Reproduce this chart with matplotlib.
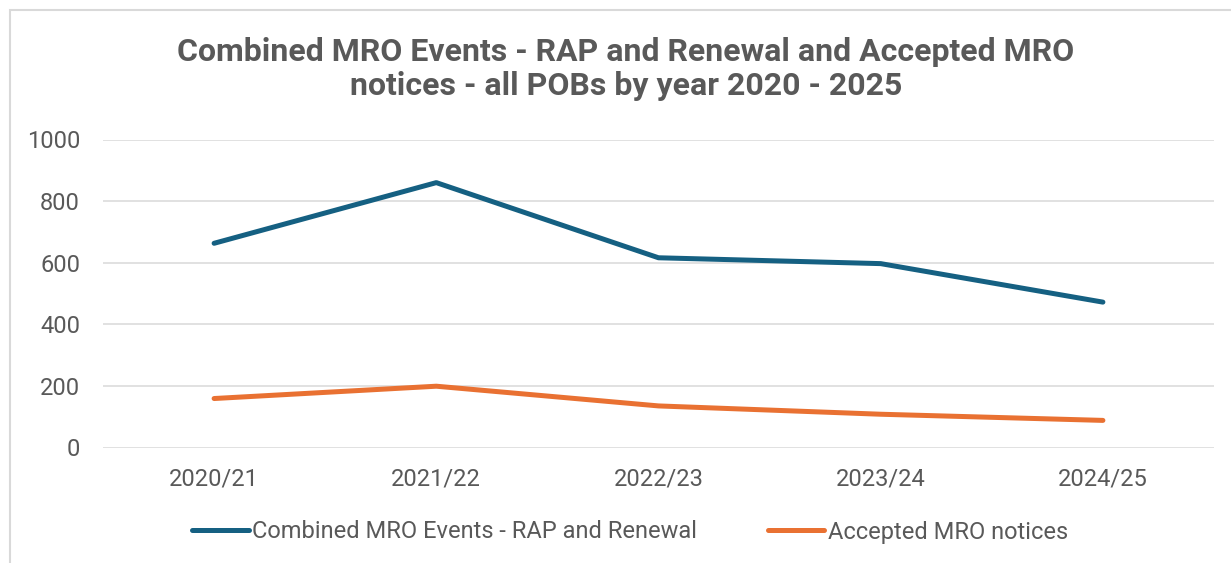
import matplotlib
matplotlib.use("Agg")
import matplotlib.pyplot as plt
from matplotlib.patches import Rectangle

plt.rcParams['font.family'] = ['Roboto', 'DejaVu Sans']

years = ["2020/21", "2021/22", "2022/23", "2023/24", "2024/25"]
combined_events = [663, 860, 616, 597, 472]
accepted_notices = [159, 199, 135, 108, 88]

blue = '#156082'
orange = '#E97132'
grey_text = '#595959'
grid_col = '#d9d9d9'

fig = plt.figure(figsize=(12.31, 5.63), dpi=100)
ax = fig.add_axes([103/1231, 1-447.5/563, (1214-103)/1231, (447.5-139.5)/563])

x = range(len(years))
ax.plot(x, combined_events, color=blue, lw=3.6, solid_capstyle='round',
        solid_joinstyle='round', label='Combined MRO Events - RAP and Renewal')
ax.plot(x, accepted_notices, color=orange, lw=3.6, solid_capstyle='round',
        solid_joinstyle='round', label='Accepted MRO notices')

ax.set_xlim(-0.5, len(years) - 0.5)
ax.set_ylim(0, 1000)
ax.set_yticks([0, 200, 400, 600, 800, 1000])
ax.set_xticks(list(x))
ax.set_xticklabels(years)
ax.grid(axis='y', color=grid_col, lw=1.1)
ax.set_axisbelow(True)
for s in ax.spines.values():
    s.set_visible(False)
ax.tick_params(axis='both', length=0, labelsize=17, labelcolor=grey_text)
ax.tick_params(axis='y', pad=16.5)
ax.tick_params(axis='x', pad=14.5)

fig.text(626/1231, 1-69/563,
         "Combined MRO Events - RAP and Renewal and Accepted MRO\nnotices - all POBs by year 2020 - 2025",
         ha='center', va='center', fontsize=23, fontweight='bold', color=grey_text,
         linespacing=1.15)

leg = fig.legend(loc='center', bbox_to_anchor=(630/1231, 1-532/563), ncol=2,
                 frameon=False, fontsize=17, handlelength=2.4, handletextpad=0.15,
                 columnspacing=3.0)
for t in leg.get_texts():
    t.set_color(grey_text)

fig.patches.append(Rectangle((10/1231, -0.1), 1.2, 0.983 + 0.1, transform=fig.transFigure,
                             fill=False, edgecolor=grid_col, lw=1.5))

fig.savefig('out.png', dpi=100)
